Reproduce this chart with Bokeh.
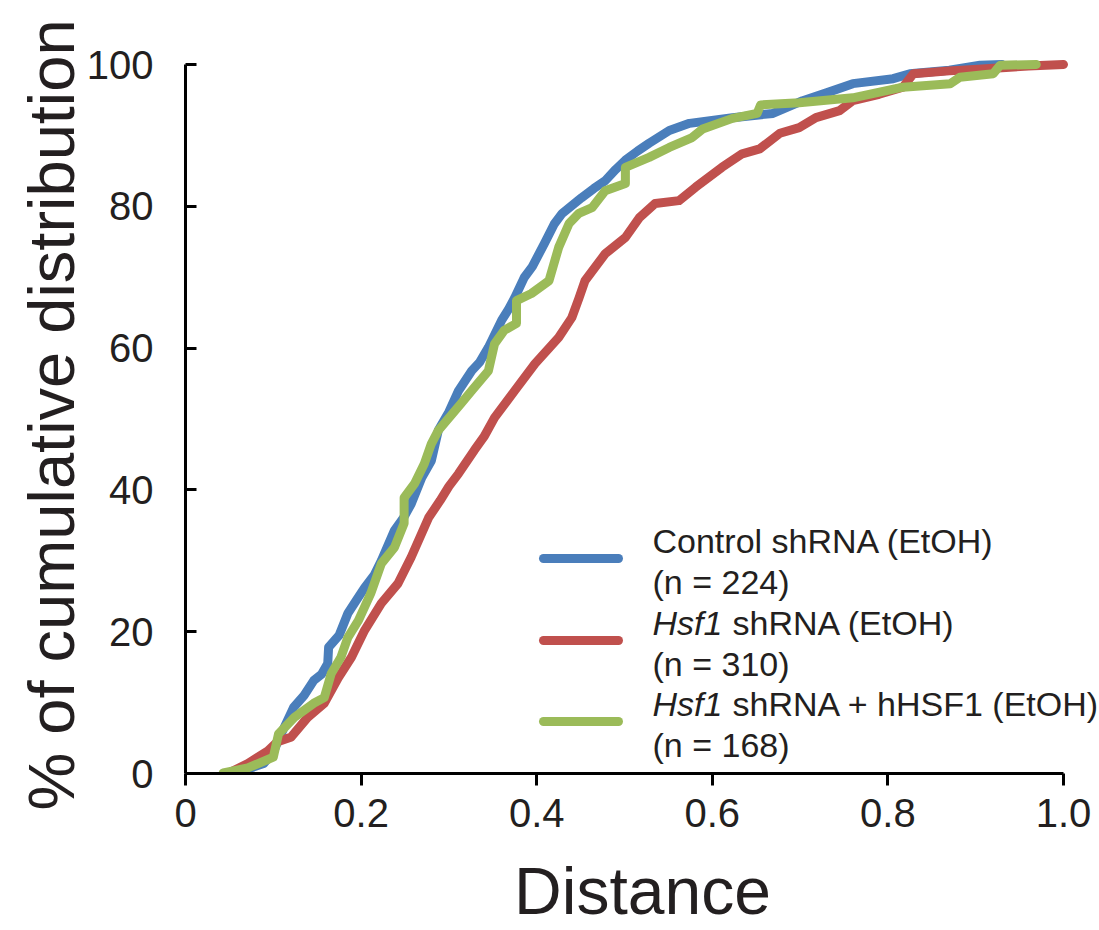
from bokeh.plotting import figure
from bokeh.models import Range1d, FixedTicker, Label, NumeralTickFormatter
from bokeh.embed import file_html
from bokeh.resources import INLINE

# ---- data ----
ctrl_x = [0.045, 0.07, 0.089, 0.1, 0.109, 0.123, 0.135, 0.146, 0.155, 0.162, 0.163, 0.175, 0.185, 0.195, 0.204,
          0.215, 0.223, 0.238, 0.248, 0.257, 0.269, 0.28, 0.288, 0.3, 0.311, 0.326, 0.335, 0.345, 0.36, 0.368,
          0.375, 0.386, 0.395, 0.409, 0.42, 0.429, 0.451, 0.465, 0.478, 0.49, 0.501, 0.515, 0.528, 0.551, 0.574,
          0.623, 0.669, 0.703, 0.73, 0.76, 0.806, 0.825, 0.87, 0.905, 0.93]
ctrl_y = [0, 0.6, 1.4, 3, 5.6, 9.3, 11, 13.1, 14, 15.5, 17.8, 19.5, 22.6, 24.5, 26.2,
          28, 30, 34.3, 36, 38, 41.7, 44.1, 48.4, 51, 54, 56.8, 58, 60.1, 63.9, 65.5,
          67.1, 70, 71.5, 74.8, 77.5, 79, 81.2, 82.5, 83.6, 85.2, 86.5, 87.8, 88.9, 90.7, 91.7,
          92.5, 93.1, 94.9, 96, 97.3, 98, 98.7, 99.2, 99.9, 100]

hsf_x = [0.048, 0.071, 0.094, 0.105, 0.12, 0.139, 0.158, 0.174, 0.189, 0.204, 0.223, 0.242, 0.257, 0.277, 0.29,
         0.3, 0.311, 0.329, 0.34, 0.352, 0.375, 0.398, 0.425, 0.44, 0.448, 0.455, 0.478, 0.501, 0.517, 0.535,
         0.562, 0.581, 0.611, 0.634, 0.654, 0.677, 0.699, 0.718, 0.745, 0.76, 0.79, 0.817, 0.829, 0.87, 0.912,
         0.96, 1.0]
hsf_y = [0, 1.4, 3.2, 4.5, 5.1, 7.9, 9.9, 13.5, 16.4, 20.2, 24, 26.8, 30.5, 36.1, 38.5,
         40.5, 42.3, 45.6, 47.5, 50.2, 54, 57.8, 61.5, 64.3, 67, 69.5, 73.3, 75.6, 78.4, 80.4,
         80.8, 82.7, 85.5, 87.4, 88.1, 90.3, 91.1, 92.5, 93.5, 94.9, 95.8, 96.8, 98.7, 99.1, 99.4,
         99.8, 100]

resc_x = [0.043, 0.071, 0.1, 0.106, 0.124, 0.146, 0.158, 0.166, 0.177, 0.185, 0.197, 0.211, 0.223, 0.238, 0.249,
          0.249, 0.261, 0.272, 0.28, 0.288, 0.314, 0.326, 0.345, 0.352, 0.363, 0.377, 0.377, 0.394, 0.414, 0.425,
          0.437, 0.448, 0.463, 0.478, 0.501, 0.501, 0.528, 0.551, 0.577, 0.589, 0.623, 0.651, 0.655, 0.699, 0.76,
          0.817, 0.871, 0.882, 0.92, 0.928, 0.969]
resc_y = [0.1, 0.8, 2.3, 5.6, 7.9, 9.9, 10.7, 14.1, 16.4, 19.2, 21.6, 25.4, 29.6, 31.9, 35.3,
          38.9, 40.9, 43.7, 46.5, 48.4, 52.2, 54, 56.8, 60.6, 62.5, 63.5, 66.7, 67.7, 69.5, 74.2,
          77.6, 79, 79.8, 82.2, 83.2, 85.5, 86.9, 88.3, 89.7, 90.9, 92.4, 93.1, 94.3, 94.6, 95.3,
          96.8, 97.3, 98.2, 98.7, 99.9, 100]

x_ticks = [0, 0.2, 0.4, 0.6, 0.8, 1.0]
y_ticks = [0, 20, 40, 60, 80, 100]

BLUE = "#4a7ebb"
RED = "#c0504d"
GREEN = "#9bbb59"
TXT = "#231f20"
FONT = "Liberation Sans"

# pixel geometry of the frame
W, H = 1099, 930
X0_PX, X1_PX = 185, 1063      # x = 0 and x = 1.0
Y0_PX, Y100_PX = 773, 64      # y = 0 and y = 100
PX_PER_X = (X1_PX - X0_PX) / 1.0
PX_PER_Y = (Y0_PX - Y100_PX) / 100.0
FRAME_RIGHT = 1099
FRAME_TOP = 56
x_end = (FRAME_RIGHT - X0_PX) / PX_PER_X
y_end = 100 + (Y100_PX - FRAME_TOP) / PX_PER_Y

p = figure(width=W, height=H, output_backend="svg", toolbar_location=None,
           x_range=Range1d(0, x_end), y_range=Range1d(0, y_end),
           min_border_left=X0_PX, min_border_right=W - FRAME_RIGHT,
           min_border_top=FRAME_TOP, min_border_bottom=H - Y0_PX)
p.grid.visible = False
p.outline_line_color = None
p.background_fill_color = "white"
p.border_fill_color = "white"

# lines
for xs, ys, c in [(ctrl_x, ctrl_y, BLUE), (hsf_x, hsf_y, RED), (resc_x, resc_y, GREEN)]:
    p.line(xs, ys, line_color=c, line_width=9, line_join="round", line_cap="round")

# axes
xa = p.xaxis[0]
xa.bounds = (0, 1.0)
xa.ticker = FixedTicker(ticks=x_ticks)
xa.formatter = NumeralTickFormatter(format="0.0")
xa.major_label_overrides = {0: "0"}
xa.major_tick_in = 0
xa.major_tick_out = 12
xa.minor_tick_line_color = None
xa.axis_line_width = 3
xa.major_tick_line_width = 3
xa.axis_line_color = "black"
xa.major_tick_line_color = "black"
xa.major_label_text_font = FONT
xa.major_label_text_font_size = "40px"
xa.major_label_text_color = TXT
xa.major_label_standoff = 13
xa.axis_label = "Distance"
xa.axis_label_text_font = FONT
xa.axis_label_text_font_size = "66px"
xa.axis_label_text_font_style = "normal"
xa.axis_label_text_color = TXT
xa.axis_label_standoff = 24

ya = p.yaxis[0]
ya.bounds = (0, 100)
ya.ticker = FixedTicker(ticks=y_ticks)
ya.major_tick_in = 11
ya.major_tick_out = 0
ya.minor_tick_line_color = None
ya.axis_line_width = 3
ya.major_tick_line_width = 3
ya.axis_line_color = "black"
ya.major_tick_line_color = "black"
ya.major_label_text_font = FONT
ya.major_label_text_font_size = "40px"
ya.major_label_text_color = TXT
ya.major_label_standoff = 32
ya.axis_label = "% of cumulative distribution"
ya.axis_label_text_font = FONT
ya.axis_label_text_font_size = "65px"
ya.axis_label_text_font_style = "normal"
ya.axis_label_text_color = TXT
ya.axis_label_standoff = -4

def dx(px):
    return (px - X0_PX) / PX_PER_X

def dy(py):
    return (Y0_PX - py) / PX_PER_Y

# legend (drawn by hand to allow italic gene names)
legend_rows = [
    (BLUE, [("Control shRNA (EtOH)", "normal")], "(n = 224)", 540, 558),
    (RED, [("Hsf1", "italic"), ("shRNA (EtOH)", "normal")], "(n = 310)", 622, 640),
    (GREEN, [("Hsf1", "italic"), ("shRNA + hHSF1 (EtOH)", "normal")], "(n = 168)", 703, 721),
]
for color, parts, ntext, ty, ly in legend_rows:
    p.segment(x0=dx(543), y0=dy(ly), x1=dx(618), y1=dy(ly), line_color=color,
              line_width=9, line_cap="round")
    tx = 652
    for txt, style in parts:
        p.add_layout(Label(x=dx(tx), y=dy(ty), text=txt, text_font=FONT, text_font_size="34px",
                           text_font_style=style, text_color=TXT, text_baseline="middle",
                           text_align="left"))
        tx = 732
    p.add_layout(Label(x=dx(652), y=dy(ty + 41), text=ntext, text_font=FONT, text_font_size="34px",
                       text_color=TXT, text_baseline="middle", text_align="left"))

open("out.html", "w").write(file_html(p, INLINE))
